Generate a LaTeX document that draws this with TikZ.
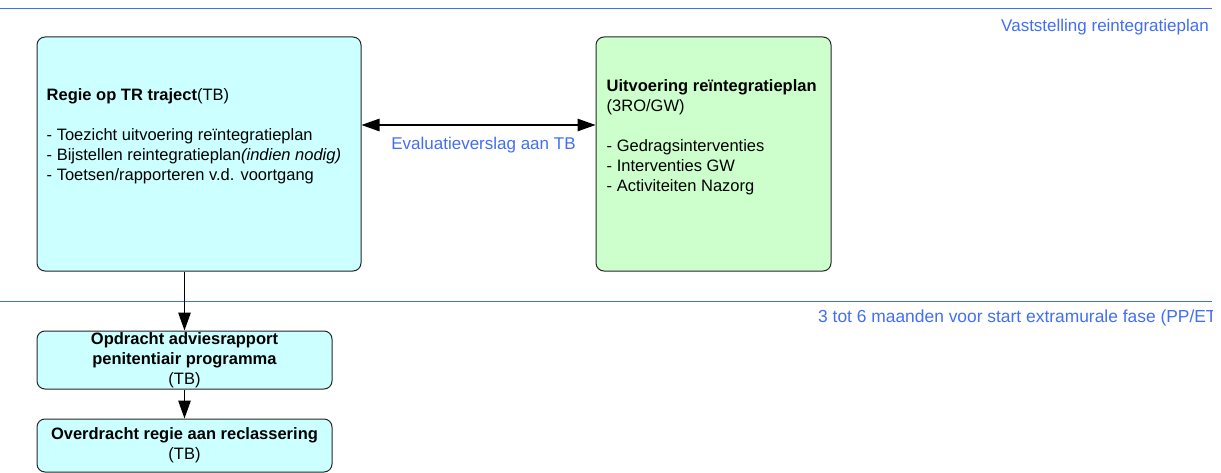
\documentclass[tikz,border=0pt]{standalone}
\usepackage{fontspec}
\setmainfont{Liberation Sans}
\usepackage{tikz}
\definecolor{cyanish}{RGB}{204, 255, 255}
\definecolor{greenish}{RGB}{204, 255, 204}
\definecolor{blueish}{RGB}{66, 110, 245}
\usetikzlibrary{arrows.meta,positioning}
\tikzset{
  boxnode/.style = {draw=black!85, line width=1pt, rounded corners=8pt,
    inner sep=0pt, font=\fontsize{16.5}{20}\selectfont},
  regie_n/.style = {boxnode, fill=cyanish},% regie, lichtblauw
  uitv_n/.style = {boxnode, fill=greenish},% uitvoering, lichtgroen
  stap_n/.style = {boxnode, fill=cyanish, align=center},% kleine stap
  boxtext/.style = {inner sep=0pt, align=left,
    font=\fontsize{16.5}{20}\selectfont},
  phaseline/.style = {blueish, line width=1pt},
  phaselabel/.style = {blueish, inner sep=0pt,
    font=\fontsize{17}{20}\selectfont},
  flow/.style = {line width=1.3pt, -{Triangle[length=18pt,width=12.5pt]}},
}

\begin{document}
\begin{tikzpicture}[x=1pt, y=-1pt]
\useasboundingbox (0,0) rectangle (1221,473);

% fasen
\draw[phaseline] (0,9) -- (1212,9);
\draw[phaseline] (0,301) -- (1212,301);
\node[phaselabel, anchor=east] (vaststelling) at (1209,27)
  {Vaststelling reintegratieplan};
\begin{scope}
  \clip (0,0) rectangle (1212,473);
  \node[phaselabel, font=\fontsize{17.4}{20}\selectfont, anchor=west] (extramuraal) at (818,318)
    {3 tot 6 maanden voor start extramurale fase (PP/ET};
\end{scope}

% blokken
\node [regie_n, minimum width=324pt, minimum height=234pt] (regie) at (199,154) {};
\node [uitv_n, minimum width=235pt, minimum height=234pt] (uitvoering) at (713.5,154) {};
\node [stap_n, minimum width=295pt, minimum height=58pt] (opdracht) at (184.5,360)
  {\textbf{Opdracht adviesrapport}\\ \textbf{penitentiair programma}\\ (TB)};
\node [stap_n, minimum width=295pt, minimum height=53pt] (overdracht) at (184.5,445.5)
  {\textbf{Overdracht regie aan reclassering}\\ (TB)};

% teksten in de blokken
\node [boxtext, below right=50pt and 10pt of regie.north west] (regietekst)
  {\strut\textbf{Regie op TR traject}(TB)\\[20pt]
   - Toezicht uitvoering reïntegratieplan\\
   - Bijstellen reintegratieplan\textit{(indien nodig)}\\
   - Toetsen/rapporteren v.d. voortgang};
\node [boxtext, below right=41pt and 11pt of uitvoering.north west] (uitvtekst)
  {\strut\textbf{Uitvoering reïntegratieplan}\\
   (3RO/GW)\\[20pt]
   - Gedragsinterventies\\
   - Interventies GW\\
   - Activiteiten Nazorg};

% pijlen
\draw[flow, {Triangle[length=18pt,width=12.5pt]}-{Triangle[length=18pt,width=12.5pt]}]
  ([yshift=29pt]regie.east) -- ([yshift=29pt]uitvoering.west)
  node[phaselabel, midway, below=12pt, xshift=5pt] (evaluatie) {Evaluatieverslag aan TB};
\draw[flow] (opdracht.north |- regie.south) -- (opdracht.north);
\draw[flow] (opdracht.south) -- (overdracht.north);
\end{tikzpicture}
\end{document}
